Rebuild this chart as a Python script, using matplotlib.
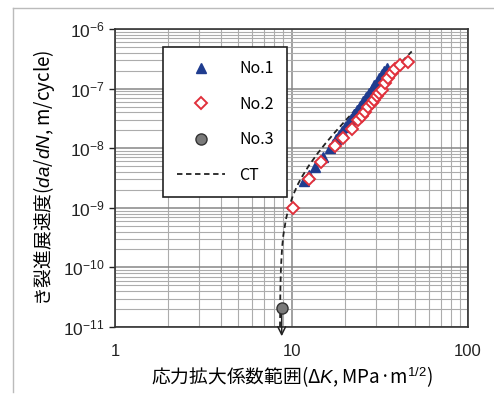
import matplotlib
matplotlib.use("Agg")
import matplotlib.pyplot as plt
from matplotlib.lines import Line2D

plt.rcParams["font.family"] = ["Liberation Sans", "DejaVu Sans"]
plt.rcParams["mathtext.fontset"] = "custom"
plt.rcParams["mathtext.rm"] = "Liberation Sans"
plt.rcParams["mathtext.it"] = "Liberation Sans:italic"

CJK = ["Noto Sans CJK JP", "DejaVu Sans"]

# No.1 (filled triangles)
no1_dk = [11.8, 12.6, 13.6, 15.0, 16.5, 17.2, 17.9, 18.6, 19.3, 20.1, 20.9, 21.7,
          22.6, 23.5, 24.4, 25.4, 26.4, 27.5, 28.6, 29.5, 30.5, 31.5, 32.6, 33.6, 34.6]
no1_rate = [2.8e-9, 3.5e-9, 4.9e-9, 7.2e-9, 1.0e-8, 1.19e-8, 1.41e-8, 1.65e-8, 1.93e-8,
            2.29e-8, 2.69e-8, 3.15e-8, 3.74e-8, 4.4e-8, 5.15e-8, 6.1e-8, 7.2e-8, 8.5e-8,
            1.0e-7, 1.14e-7, 1.31e-7, 1.5e-7, 1.73e-7, 1.97e-7, 2.22e-7]

# No.2 (open diamonds)
no2_dk = [10.2, 12.5, 14.6, 17.6, 19.7, 21.9, 23.9, 25.0, 26.1, 27.3, 28.5, 29.4,
          30.4, 31.4, 32.4, 33.9, 35.4, 36.9, 38.6, 41.2, 45.9]
no2_rate = [9.8e-10, 3.1e-9, 5.8e-9, 1.08e-8, 1.49e-8, 2.1e-8, 3.0e-8, 3.5e-8, 4.1e-8,
            4.9e-8, 5.7e-8, 6.5e-8, 7.4e-8, 8.5e-8, 9.6e-8, 1.23e-7, 1.5e-7, 1.82e-7,
            2.14e-7, 2.5e-7, 2.84e-7]

# No.3 (run-out, arrow downward)
no3_dk = [8.8]
no3_rate = [2.1e-11]
no3_arrow_end = 7.0e-12

# CT curve
ct_dk = [8.61, 8.63, 8.66, 8.72, 8.85, 8.99, 9.3, 9.59, 10.2, 10.9, 11.4, 12.5, 14.0,
         15.5, 17.6, 20.1, 23.0, 26.0, 30.0, 34.0, 38.0, 43.0, 48.0]
ct_rate = [1.0e-11, 2.55e-11, 5.1e-11, 1.03e-10, 2.18e-10, 3.46e-10, 6.43e-10, 9.39e-10,
           1.62e-9, 2.52e-9, 3.23e-9, 5.03e-9, 8.05e-9, 1.18e-8, 1.84e-8, 2.86e-8,
           4.4e-8, 6.47e-8, 1.01e-7, 1.48e-7, 2.07e-7, 3.01e-7, 4.2e-7]

W, H = 494, 403
fig = plt.figure(figsize=(W / 100, H / 100), dpi=100)
ax = fig.add_axes([115 / W, 1 - 327 / H, 353 / W, 298 / H])

ax.set_xscale("log")
ax.set_yscale("log")
ax.set_xlim(1, 100)
ax.set_ylim(1e-11, 1e-6)

ax.grid(True, which="major", color="#868686", lw=1.1)
ax.grid(True, which="minor", color="#acacac", lw=0.8)
ax.set_axisbelow(True)

ax.plot(ct_dk, ct_rate, ls=(0, (3, 2)), color="#222222", lw=1.3, label="CT", zorder=4)
ax.plot(no1_dk, no1_rate, ls="none", marker="^", ms=7, color="#1f3c8f",
        mec="#1f3c8f", label="No.1", zorder=5)
ax.plot(no2_dk, no2_rate, ls="none", marker="D", ms=6, mfc="white", mec="#e0303c",
        mew=1.4, label="No.2", zorder=6)
ax.annotate("", xy=(no3_dk[0], no3_arrow_end), xytext=(no3_dk[0], no3_rate[0]),
            arrowprops=dict(arrowstyle="->", color="#222222", lw=1.1,
                            mutation_scale=14, shrinkA=0, shrinkB=0),
            annotation_clip=False, zorder=6)
ax.plot(no3_dk, no3_rate, ls="none", marker="o", ms=8, mfc="#7a7a7a", mec="#333333",
        mew=1.0, label="No.3", zorder=7, clip_on=False)

for s in ax.spines.values():
    s.set_color("#333333")
    s.set_linewidth(1.2)

ax.tick_params(axis="y", which="major", direction="out", length=4, width=1,
               labelsize=12.5, colors="#222222")
ax.tick_params(axis="y", which="minor", length=0)
ax.tick_params(axis="x", which="both", length=0, labelsize=12, pad=12,
               colors="#222222")
ax.set_xticks([1, 10, 100])
ax.set_xticklabels(["1", "10", "100"])

ax.set_xlabel("応力拡大係数範囲(Δ$\\it{K}$, MPa·m$^{1/2}$)", family=CJK,
              fontsize=13.5, labelpad=4)
ax.set_ylabel("き裂進展速度($\\it{da}$/$\\it{dN}$, m/cycle)", family=CJK,
              fontsize=13.5, labelpad=4)

handles = [
    Line2D([], [], ls="none", marker="^", ms=7, color="#1f3c8f"),
    Line2D([], [], ls="none", marker="D", ms=6, mfc="white", mec="#e0303c", mew=1.4),
    Line2D([], [], ls="none", marker="o", ms=8, mfc="#7a7a7a", mec="#333333"),
    Line2D([], [], ls=(0, (3, 2)), color="#222222", lw=1.3),
]
leg = ax.legend(handles, ["No.1", "No.2", "No.3", "CT"], loc="upper left",
                bbox_to_anchor=(0.136, 0.94), borderaxespad=0, fancybox=False,
                framealpha=1, edgecolor="#222222", labelspacing=1.15,
                handlelength=3.0, handletextpad=0.9, borderpad=0.85,
                prop={"family": CJK, "size": 11.5})
leg.get_frame().set_linewidth(1.2)

# light outer frame
fig.add_artist(Line2D([13 / W, 13 / W], [1 - 8 / H, 1 - 392 / H], color="#bbbbbb", lw=1))
fig.add_artist(Line2D([13 / W, 1], [1 - 8 / H, 1 - 8 / H], color="#bbbbbb", lw=1))

fig.savefig("out.png", dpi=100)
plt.close(fig)
